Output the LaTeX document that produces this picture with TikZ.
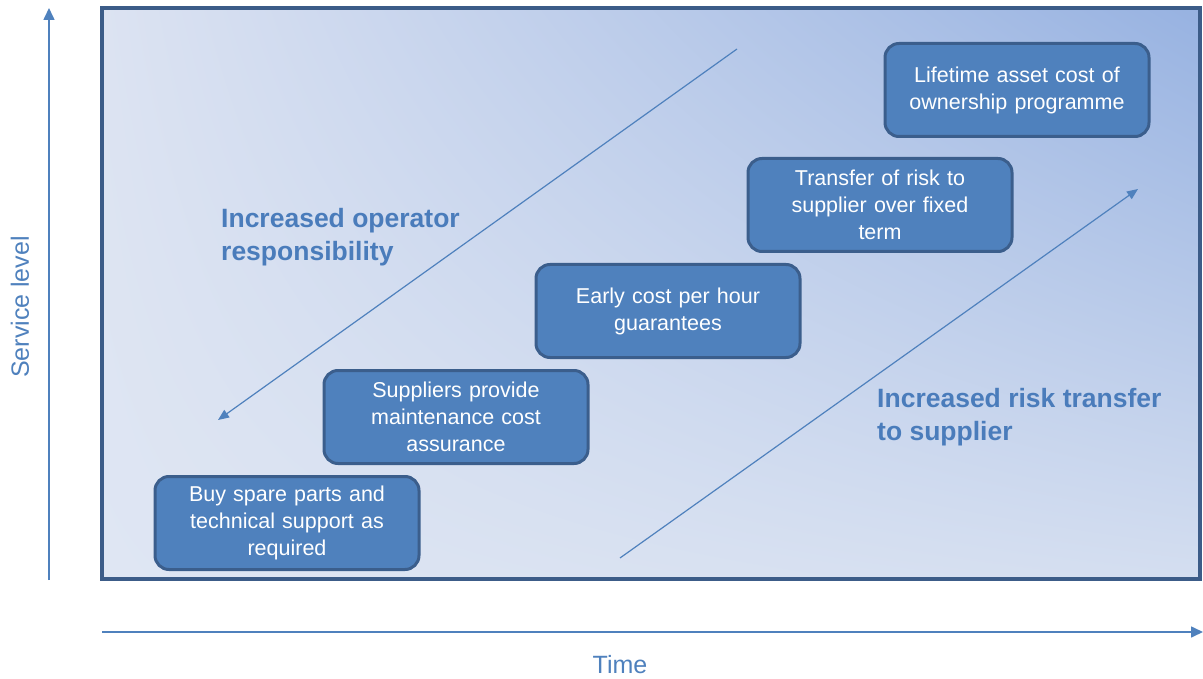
\documentclass[tikz,border=0pt]{standalone}
\usepackage{fontspec}
\setmainfont{Liberation Sans}
\usetikzlibrary{arrows.meta,shadings}
\definecolor{boxfill}{HTML}{4F81BD}
\definecolor{boxdraw}{HTML}{3B5E8C}
\definecolor{axisblue}{HTML}{4F81BD}
\definecolor{framedraw}{HTML}{3C5C88}
\definecolor{labelblue}{HTML}{4A7CBB}
\definecolor{bgul}{RGB}{220,227,242}
\definecolor{bgur}{RGB}{151,178,225}
\definecolor{bgll}{RGB}{223,230,243}
\definecolor{bglr}{RGB}{212,222,240}
\tikzset{
  stagebox/.style={draw=boxdraw, line width=3pt, fill=boxfill, rounded corners=14pt,
    minimum width=264pt, minimum height=93pt, text width=255pt, align=center,
    text=white, font=\fontsize{21.5}{27}\selectfont, inner sep=0pt},
  axisline/.style={draw=axisblue, line width=1.6pt, -{Triangle[width=11pt,length=12pt]}},
  trendline/.style={draw=axisblue, line width=1.2pt, -{Triangle[width=9pt,length=11pt]}},
  trendlabel/.style={text=labelblue, font=\bfseries\fontsize{26.5}{33}\selectfont, align=left, anchor=north west, inner sep=0pt},
  axislabel/.style={text=axisblue, font=\fontsize{25}{30}\selectfont}
}
\begin{document}
\begin{tikzpicture}[x=1pt,y=-1pt]
\useasboundingbox (0,0) rectangle (1203,679);
% frame with gradient
\shade[upper left=bgul, upper right=bgur, lower left=bgll, lower right=bglr]
  (102,8) rectangle (1200,579);
\draw[framedraw, line width=4pt] (102,8) rectangle (1200,579);
% axes
\coordinate (yb) at (49,580);
\coordinate (yt) at (49,8);
\coordinate (xl) at (102,632);
\coordinate (xr) at (1203,632);
\draw[axisline] (yb) -- (yt);
\draw[axisline] (xl) -- (xr);
\node[axislabel, rotate=90] (ylab) at (20,307) {Service level};
\node[axislabel] (xlab) at (620,665) {Time};
% boxes
\node[stagebox] (b1) at (287,523) {Buy spare parts and\\technical support as\\required};
\node[stagebox] (b2) at (456,417) {Suppliers provide\\maintenance cost\\assurance};
\node[stagebox] (b3) at (668,311) {Early cost per hour\\guarantees};
\node[stagebox] (b4) at (880,205) {Transfer of risk to\\supplier over fixed\\term};
\node[stagebox] (b5) at (1017,90) {Lifetime asset cost of\\ownership programme};
% trend arrows
\coordinate (o1) at (737,49);
\coordinate (o2) at (218,420);
\coordinate (r1) at (620,558);
\coordinate (r2) at (1138,189);
\draw[trendline] (o1) -- (o2);
\draw[trendline] (r1) -- (r2);
\node[trendlabel] (lop) at (221,208) {Increased operator\\responsibility};
\node[trendlabel] (lrisk) at (877,388) {Increased risk transfer\\to supplier};
\end{tikzpicture}
\end{document}
